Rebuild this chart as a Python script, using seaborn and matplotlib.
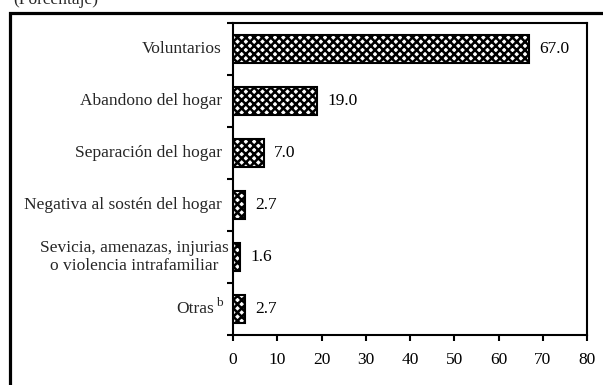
import matplotlib
matplotlib.use("Agg")
import matplotlib.pyplot as plt
import matplotlib.patches as mpatches
import matplotlib.transforms as mtransforms
import seaborn as sns
import pandas as pd

# Motivos de divorcio (porcentaje)
categories = [
    "Voluntarios",
    "Abandono del hogar",
    "Separación del hogar",
    "Negativa al sostén del hogar",
    "Sevicia, amenazas, injurias\no violencia intrafamiliar",
    "Otras",
]
notes = {"Otras": "b"}
values = [67.0, 19.0, 7.0, 2.7, 1.6, 2.7]
x_ticks = [0, 10, 20, 30, 40, 50, 60, 70, 80]

sns.set_theme(style="white")
plt.rcParams["font.family"] = ["Liberation Serif", "DejaVu Serif"]
plt.rcParams["hatch.linewidth"] = 1.8
plt.rcParams["hatch.color"] = "black"

FS = 12.5
W, H, DPI = 603, 385, 100
fig = plt.figure(figsize=(W / DPI, H / DPI), dpi=DPI)
ax = fig.add_axes([233 / W, 1 - 335 / H, (587 - 233) / W, (335 - 23) / H])

df = pd.DataFrame({"motivo": categories, "pct": values})
sns.barplot(data=df, x="pct", y="motivo", orient="h", color="white",
            edgecolor="black", linewidth=1.5, width=0.54, ax=ax,
            saturation=1)
for p in ax.patches:
    p.set_hatch("xxxx")

# value labels next to each bar
for i, v in enumerate(values):
    ax.text(v + 2.3, i, f"{v:.1f}", va="center", ha="left", fontsize=FS,
            color="black")

ax.set_xlim(0, 80)
ax.set_ylim(len(categories) - 0.5, -0.5)
ax.set_xticks(x_ticks)
ax.set_xticklabels([str(t) for t in x_ticks], fontsize=FS)
ax.set_yticks([i - 0.5 for i in range(len(categories) + 1)])
ax.set_yticklabels([])
ax.set_xlabel("")
ax.set_ylabel("")


def shifted(dx_px, dy_px):
    return ax.get_yaxis_transform() + mtransforms.ScaledTranslation(
        dx_px / DPI, dy_px / DPI, fig.dpi_scale_trans)


# category labels, right aligned beside the axis
for i, c in enumerate(categories):
    if "\n" in c:
        ax.text(0, i, c, transform=shifted(-4, 0), ha="right", va="center",
                multialignment="center", fontsize=FS, linespacing=1.2)
    elif c in notes:
        ax.text(0, i, c, transform=shifted(-19, 0), ha="right", va="center",
                fontsize=FS)
        ax.text(0, i, notes[c], transform=shifted(-10, 6), ha="right",
                va="center", fontsize=9.5)
    else:
        ax.text(0, i, c, transform=shifted(-11, 0), ha="right", va="center",
                fontsize=FS)

for s in ax.spines.values():
    s.set_visible(True)
    s.set_color("black")
    s.set_linewidth(1.5)

ax.tick_params(axis="both", direction="out", length=4.5, width=1.5,
               color="black", labelcolor="black")
ax.tick_params(axis="x", pad=8)
ax.tick_params(left=True, bottom=True)

# outer frame and header
fig.patches.append(mpatches.Rectangle((9.5 / W, -0.2), 1.2, 1.2 - 12.5 / H,
                                      transform=fig.transFigure, fill=False,
                                      edgecolor="black", linewidth=2.3))
fig.text(13 / W, 1 - 4 / H, "(Porcentaje)", ha="left", va="baseline",
         fontsize=FS)

fig.savefig("out.png", dpi=DPI)
